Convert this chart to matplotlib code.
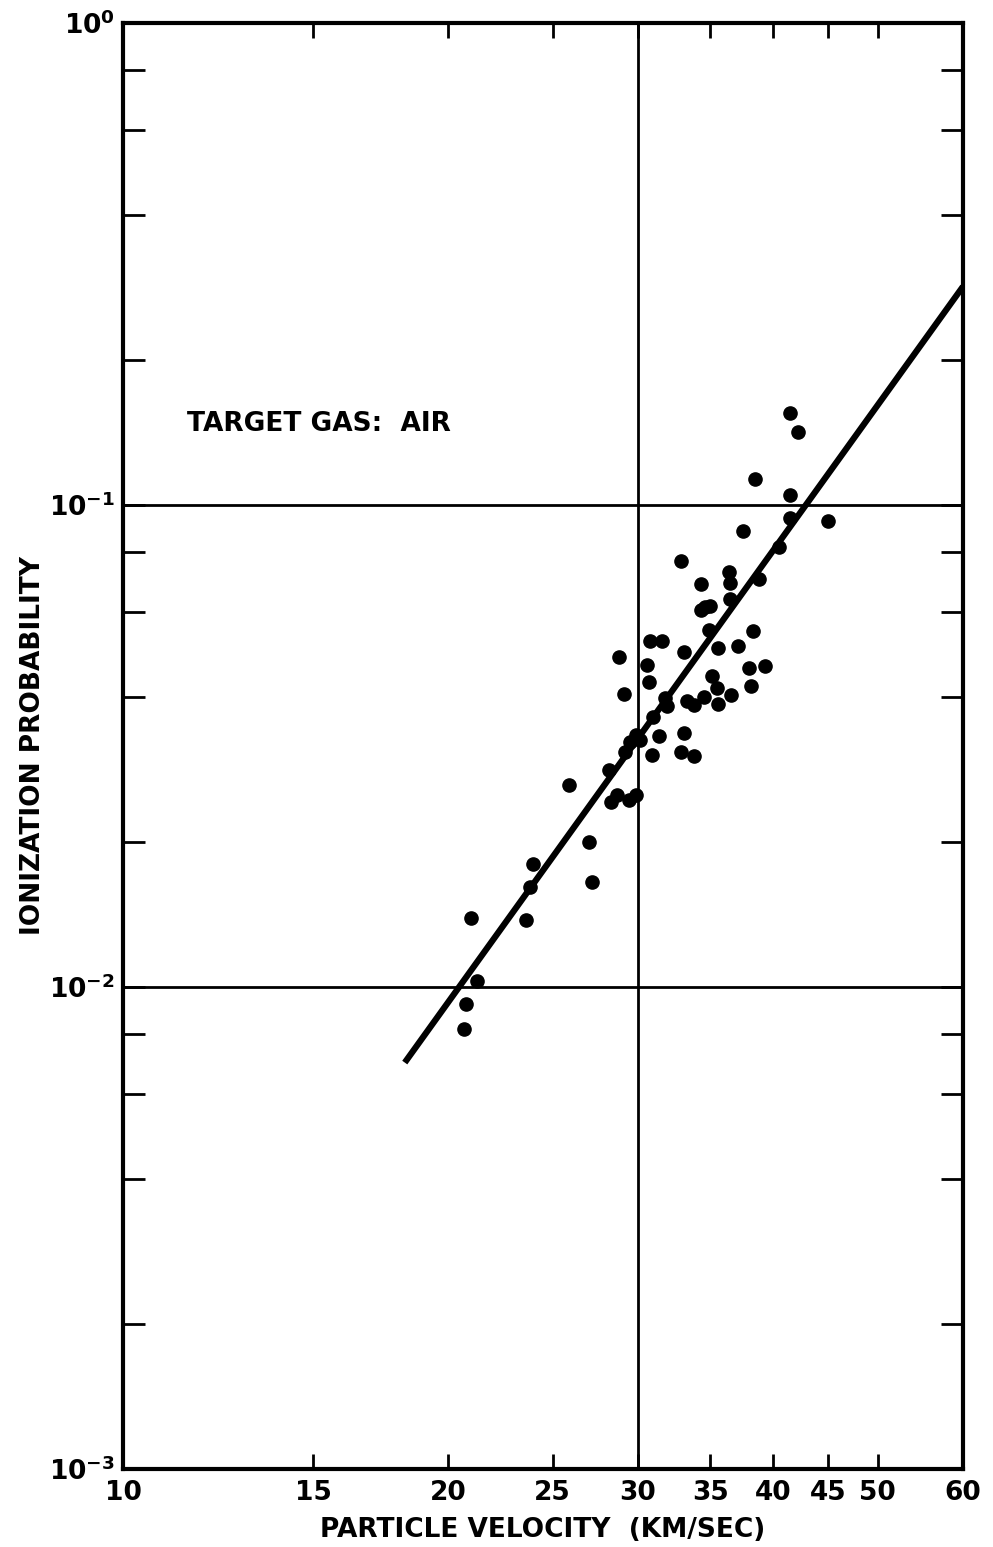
import matplotlib
matplotlib.use("Agg")
import matplotlib.pyplot as plt
from matplotlib.ticker import FixedLocator, NullFormatter, FixedFormatter
import numpy as np

# ---- data ----
velocity = [20.7, 20.8, 21.3, 21.0, 23.6, 23.8, 24.0, 27.2, 27.0, 25.9,
            28.2, 28.3, 28.7, 29.4, 29.9, 29.2, 29.5, 29.9, 30.15, 30.9,
            31.4, 31.0, 31.8, 31.9, 33.3, 33.8, 34.5, 35.6, 36.6, 35.5,
            35.1, 38.2, 38.0, 39.3, 33.1, 32.9, 33.8, 28.8, 29.1, 30.8,
            31.6, 30.6, 30.7, 33.1, 34.9, 35.6, 37.1, 38.3, 32.9, 36.4,
            36.5, 34.3, 34.6, 34.3, 35.0, 36.5, 38.8, 40.5, 41.5, 42.2,
            38.5, 41.5, 41.5, 45.0, 37.5]
probability = [0.00818, 0.00921, 0.0103, 0.0139, 0.0138, 0.0161, 0.0180, 0.0165, 0.0200, 0.0262,
               0.0282, 0.0242, 0.0250, 0.0244, 0.0250, 0.0308, 0.0323, 0.0333, 0.0325, 0.0303,
               0.0332, 0.0364, 0.0397, 0.0383, 0.0393, 0.0385, 0.0400, 0.0387, 0.0403, 0.0417,
               0.0442, 0.0422, 0.0460, 0.0464, 0.0337, 0.0308, 0.0301, 0.0484, 0.0405, 0.0521,
               0.0521, 0.0466, 0.0429, 0.0495, 0.0550, 0.0504, 0.0510, 0.0548, 0.0765, 0.0727,
               0.0690, 0.0686, 0.0615, 0.0606, 0.0617, 0.0637, 0.0701, 0.0817, 0.1554, 0.1415,
               0.1132, 0.1049, 0.0941, 0.0927, 0.0885]

# fitted line end points (velocity, probability)
fit_velocity = [18.24, 60.0]
fit_probability = [0.00697, 0.284]

x_ticks = [10, 15, 20, 25, 30, 35, 40, 45, 50, 60]
x_tick_labels = ["10", "15", "20", "25", "30", "35", "40", "45", "50", "60"]
y_ticks = [1e-3, 1e-2, 1e-1, 1e0]
y_tick_labels = [r"$\mathbf{10^{-3}}$", r"$\mathbf{10^{-2}}$", r"$\mathbf{10^{-1}}$", r"$\mathbf{10^{0}}$"]
y_minor = [m * 10.0 ** e for e in (-3, -2, -1) for m in (2, 4, 6, 8)]

plt.rcParams['font.family'] = ['DejaVu Sans']
plt.rcParams['font.weight'] = 'bold'
plt.rcParams['mathtext.fontset'] = 'dejavusans'

fig = plt.figure(figsize=(9.93, 15.47), dpi=100)
ax = fig.add_axes([123 / 993, 1 - 1469 / 1547, 840 / 993, 1446 / 1547])
ax.set_xscale('log')
ax.set_yscale('log')
ax.set_xlim(10, 60)
ax.set_ylim(1e-3, 1e0)

# grid lines at the reference lines
ax.axhline(0.1, color='black', lw=2.0, zorder=1)
ax.axhline(0.01, color='black', lw=2.0, zorder=1)
ax.axvline(30, color='black', lw=2.0, zorder=1)

ax.plot(fit_velocity, fit_probability, color='black', lw=4.5, solid_capstyle='butt', zorder=2)
ax.plot(velocity, probability, 'o', color='black', ms=9.5, zorder=3)

ax.text(11.47, 0.147, "TARGET GAS:  AIR", fontsize=19, fontweight='bold', ha='left', va='center')

ax.xaxis.set_major_locator(FixedLocator(x_ticks))
ax.xaxis.set_major_formatter(FixedFormatter(x_tick_labels))
ax.xaxis.set_minor_locator(FixedLocator([]))
ax.yaxis.set_major_locator(FixedLocator(y_ticks))
ax.yaxis.set_major_formatter(FixedFormatter(y_tick_labels))
ax.yaxis.set_minor_locator(FixedLocator(y_minor))
ax.yaxis.set_minor_formatter(NullFormatter())

ax.tick_params(axis='x', which='major', direction='in', top=True, bottom=True,
               length=11, width=2, labelsize=19, pad=8)
ax.tick_params(axis='y', which='major', direction='in', left=True, right=True,
               length=16, width=2, labelsize=19, pad=6)
ax.tick_params(axis='y', which='minor', direction='in', left=True, right=True,
               length=16, width=2)
for lab in ax.get_xticklabels():
    lab.set_fontweight('bold')

for s in ax.spines.values():
    s.set_linewidth(3)

ax.set_xlabel("PARTICLE VELOCITY  (KM/SEC)", fontsize=19, fontweight='bold', labelpad=8)
ax.set_ylabel("IONIZATION PROBABILITY", fontsize=19, fontweight='bold', labelpad=2)

fig.savefig("out.png", dpi=100)
